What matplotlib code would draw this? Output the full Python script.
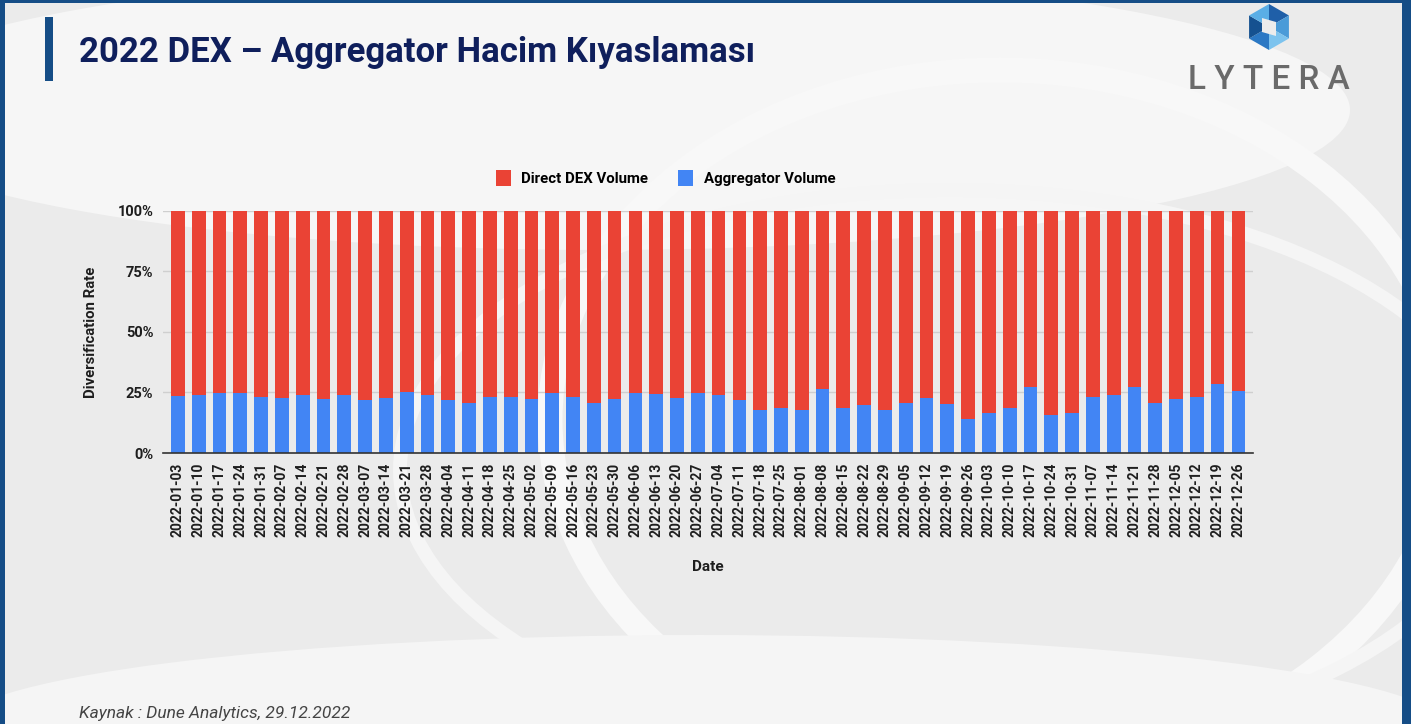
import numpy as np
import matplotlib
matplotlib.use('Agg')
import matplotlib.pyplot as plt
from matplotlib.patches import Rectangle, Polygon, Ellipse

# weekly dates 2022
dates = ["2022-01-03", "2022-01-10", "2022-01-17", "2022-01-24", "2022-01-31",
         "2022-02-07", "2022-02-14", "2022-02-21", "2022-02-28",
         "2022-03-07", "2022-03-14", "2022-03-21", "2022-03-28",
         "2022-04-04", "2022-04-11", "2022-04-18", "2022-04-25",
         "2022-05-02", "2022-05-09", "2022-05-16", "2022-05-23", "2022-05-30",
         "2022-06-06", "2022-06-13", "2022-06-20", "2022-06-27",
         "2022-07-04", "2022-07-11", "2022-07-18", "2022-07-25",
         "2022-08-01", "2022-08-08", "2022-08-15", "2022-08-22", "2022-08-29",
         "2022-09-05", "2022-09-12", "2022-09-19", "2022-09-26",
         "2022-10-03", "2022-10-10", "2022-10-17", "2022-10-24", "2022-10-31",
         "2022-11-07", "2022-11-14", "2022-11-21", "2022-11-28",
         "2022-12-05", "2022-12-12", "2022-12-19", "2022-12-26"]

# aggregator share (%)
aggregator = [23.5, 23.9, 24.9, 24.9, 23.3, 22.9, 23.9, 22.2, 23.9, 21.8,
              22.9, 25.4, 23.9, 21.8, 20.7, 23.3, 23.3, 22.2, 24.9, 23.3,
              20.7, 22.2, 24.9, 24.3, 22.8, 24.9, 23.9, 21.7, 17.8, 18.8,
              17.8, 26.4, 18.8, 19.8, 17.8, 20.7, 22.8, 20.4, 14.1, 16.7,
              18.8, 27.3, 15.9, 16.7, 23.3, 23.9, 27.3, 20.7, 22.2, 23.3,
              28.5, 25.8]
direct = [100 - a for a in aggregator]

RED = '#ea4335'
BLUE = '#4285f4'
NAVY = '#0f1f5c'
FRAME = '#154d86'
INK = '#1e1e1e'

fig = plt.figure(figsize=(14.11, 7.24), dpi=100, facecolor='#ededed')

# background decoration (soft white swooshes)
bg = fig.add_axes([0, 0, 1, 1], zorder=-10)
bg.set_xlim(0, 1411)
bg.set_ylim(724, 0)
bg.axis('off')
bg.add_patch(Rectangle((0, 0), 1411, 724, color='#ebebeb'))
bg.add_patch(Ellipse((600, 110), 1500, 280, color='#f6f6f6', lw=0))
bg.add_patch(Ellipse((1000, 420), 900, 700, fill=False, ec='#f8f8f8', lw=18))
bg.add_patch(Ellipse((950, 470), 1100, 560, fill=False, ec='#f5f5f5', lw=10))
bg.add_patch(Ellipse((700, 730), 1500, 190, color='#f5f5f5', lw=0))
# frame: thin top/left, thicker right
bg.add_patch(Rectangle((0, 0), 1411, 3, color=FRAME, lw=0))
bg.add_patch(Rectangle((0, 0), 5, 724, color=FRAME, lw=0))
bg.add_patch(Rectangle((1402, 0), 9, 724, color=FRAME, lw=0))
# title accent bar
bg.add_patch(Rectangle((45, 17), 8, 64, color=FRAME, lw=0))

# logo icon
cx, cy, r = 1269, 27, 23
hexpts = [(cx + r * np.cos(np.radians(a)), cy + r * np.sin(np.radians(a)))
          for a in range(-90, 270, 60)]
shades = ['#1f5fa8', '#4a9bd8', '#7cc3ee', '#2b78c4', '#155190', '#5aaee6']
for i in range(6):
    p0 = hexpts[i]
    p1 = hexpts[(i + 1) % 6]
    bg.add_patch(Polygon([(cx, cy), p0, p1], closed=True, color=shades[i], lw=0))
bg.add_patch(Polygon([(cx - 7, cy - 9), (cx + 7, cy - 5), (cx + 7, cy + 9),
                      (cx - 7, cy + 5)], closed=True, color='#ececec', lw=0))

fig.text(0.056, 0.928, '2022 DEX \u2013 Aggregator Hacim K\u0131yaslamas\u0131',
         fontsize=25, fontweight='bold', color=NAVY, family='Roboto',
         va='center', ha='left')
fig.text(0.8995, 0.889, 'L Y T E R A', fontsize=24, color='#6a6a6a',
         family='Roboto', fontweight='medium', ha='center', va='center')
fig.text(0.056, 0.008, 'Kaynak : Dune Analytics, 29.12.2022', fontsize=12.5,
         style='italic', color='#444444', family='Roboto', ha='left')

ax = fig.add_axes([0.1155, 0.3743, 0.7725, 0.3343])
ax.patch.set_alpha(0)
x = np.arange(len(dates))
ax.bar(x, aggregator, width=0.66, color=BLUE, label='Aggregator Volume', zorder=3)
ax.bar(x, direct, bottom=aggregator, width=0.66, color=RED,
       label='Direct DEX Volume', zorder=3)

ax.set_xlim(-0.72, 51.7)
ax.set_ylim(0, 100)
ax.set_yticks([0, 25, 50, 75, 100])
ax.set_yticklabels(['0%', '25%', '50%', '75%', '100%'])
ax.set_xticks(x)
ax.set_xticklabels(dates, rotation=90)
for lab in ax.get_xticklabels() + ax.get_yticklabels():
    lab.set_fontweight('bold')
    lab.set_family('Roboto')
    lab.set_color(INK)
ax.tick_params(axis='x', labelsize=10, length=0, pad=7)
ax.tick_params(axis='y', labelsize=10.5, length=0, pad=7)
ax.grid(axis='y', color='#cfcfcf', lw=1, zorder=0)
for s in ['top', 'right', 'left']:
    ax.spines[s].set_visible(False)
ax.spines['bottom'].set_color('#333333')
ax.spines['bottom'].set_linewidth(1.2)
ax.spines['bottom'].set_zorder(4)

ax.set_ylabel('Diversification Rate', fontsize=10.7, fontweight='bold',
              family='Roboto', color=INK, labelpad=14)
ax.set_xlabel('Date', fontsize=11, fontweight='bold', family='Roboto',
              color=INK, labelpad=16)

handles, labels = ax.get_legend_handles_labels()
leg = ax.legend(handles[::-1], labels[::-1], loc='center', ncol=2,
                bbox_to_anchor=(0.461, 1.135), frameon=False,
                prop={'family': 'Roboto', 'weight': 'bold', 'size': 10.8},
                handlelength=1.0, handleheight=1.2, columnspacing=2.0,
                handletextpad=0.7)

fig.savefig('out.png', dpi=100, facecolor=fig.get_facecolor())
